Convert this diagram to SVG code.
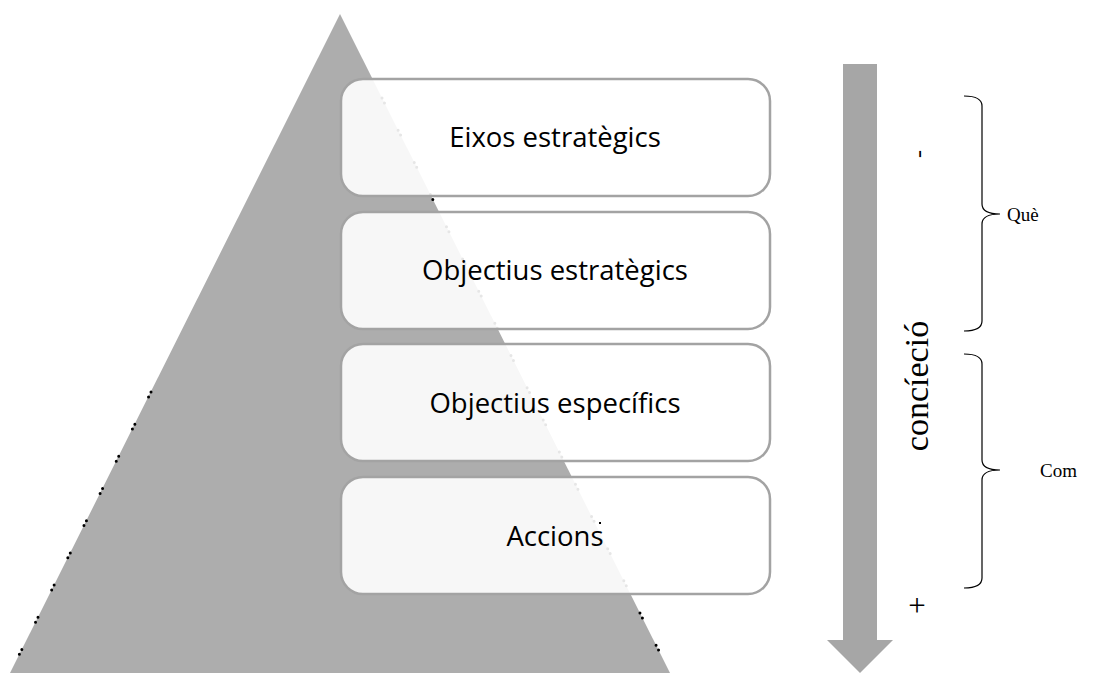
<svg xmlns="http://www.w3.org/2000/svg" width="1095" height="673" viewBox="0 0 1095 673">
<style>
.box{fill:#ffffff;fill-opacity:0.9;stroke:#a3a3a3;stroke-width:2.5}
.lbl{font-family:"Open Sans","Liberation Sans",sans-serif;font-size:27.5px;fill:#000;text-anchor:middle}
.ser{font-family:"Liberation Serif","Times New Roman",serif;fill:#000}
.brace{fill:none;stroke:#000;stroke-width:1.2}
.edge{fill:none;stroke:#000;stroke-width:3;stroke-linecap:round;stroke-dasharray:0 5.5 0 30.5}
</style>
<rect width="1095" height="673" fill="#ffffff"/>
<g id="pyramid">
<polygon points="340,14 10,673 670,673" fill="#adadad"/>
<line class="edge" x1="151" y1="392" x2="10" y2="673"/>
<line class="edge" x1="382" y1="98" x2="670" y2="673"/>
</g>
<g id="box-eixos">
<rect class="box" x="341" y="79" width="429" height="117" rx="22"/>
<text class="lbl" x="555" y="147">Eixos estratègics</text>
</g>
<g id="box-objectius-estrategics">
<rect class="box" x="341" y="212" width="429" height="117" rx="22"/>
<text class="lbl" x="555" y="280">Objectius estratègics</text>
</g>
<g id="box-objectius-especifics">
<rect class="box" x="341" y="344" width="429" height="117" rx="22"/>
<text class="lbl" x="555" y="413">Objectius específics</text>
</g>
<g id="box-accions">
<rect class="box" x="341" y="477" width="429" height="117" rx="22"/>
<text class="lbl" x="555" y="546">Accions</text>
<rect x="599" y="522" width="2" height="2" fill="#000"/>
</g>
<g id="arrow">
<polygon points="843,64 877,64 877,640 893,640 860,673 827,640 843,640" fill="#a6a6a6"/>
<text class="ser" font-size="34" transform="translate(928,386) rotate(-90)" text-anchor="middle">concíeció</text>
<text class="ser" font-size="24" transform="translate(926,154) rotate(-90)" text-anchor="middle">-</text>
<text class="ser" font-size="31" x="917" y="616" text-anchor="middle">+</text>
</g>
<g id="connectors">
<path class="brace" d="M964,96 Q982,96 982,106 L982,204 Q982,214 1000,214 Q982,214 982,224 L982,321 Q982,331 964,331"/>
<path class="brace" d="M964,354 Q982,354 982,364 L982,460 Q982,470 1000,470 Q982,470 982,480 L982,578 Q982,588 964,588"/>
</g>
<g id="labels">
<text class="ser" font-size="19" x="1007" y="221">Què</text>
<text class="ser" font-size="19" x="1040" y="477">Com</text>
</g>
</svg>
